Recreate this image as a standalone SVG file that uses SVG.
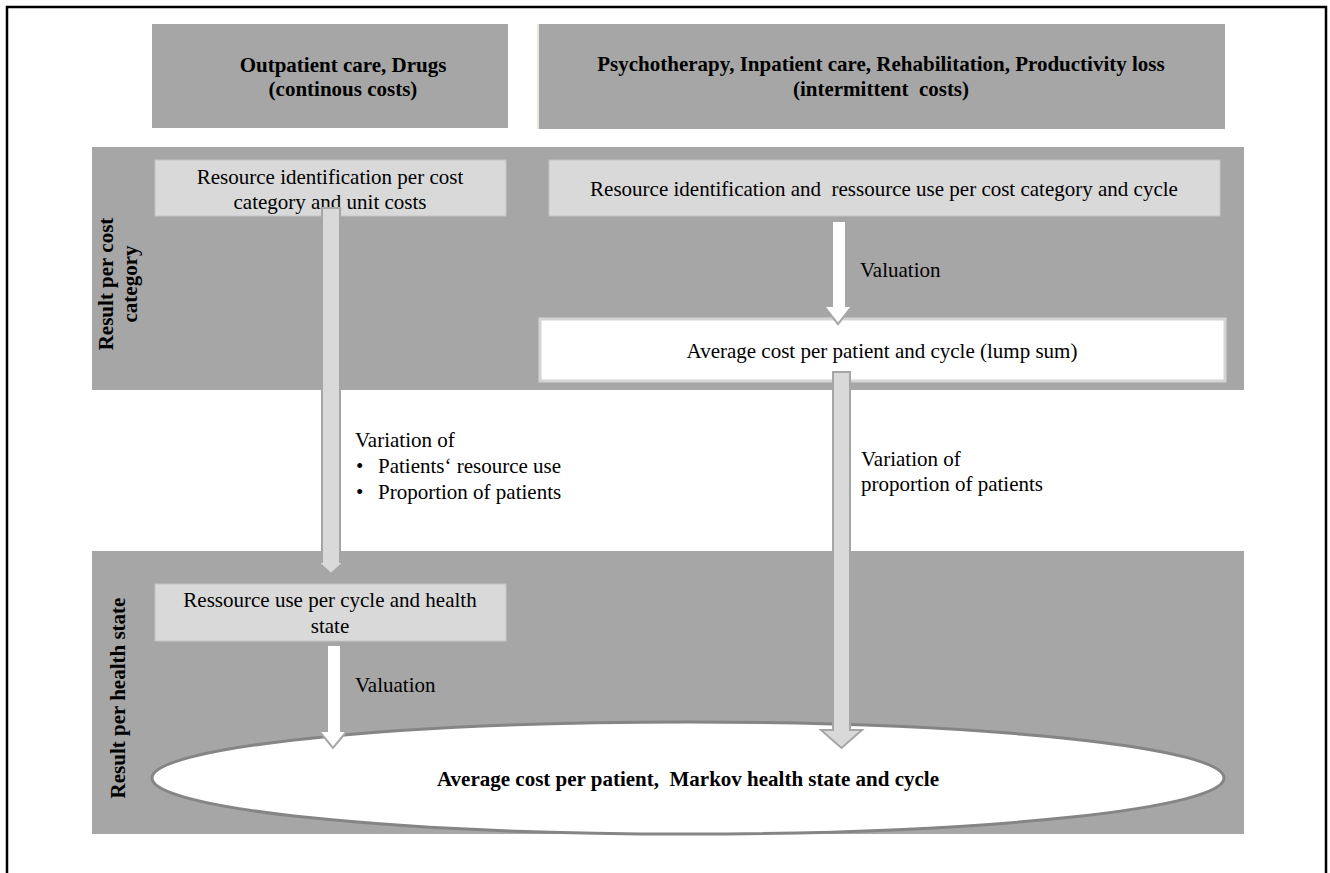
<svg xmlns="http://www.w3.org/2000/svg" width="1330" height="873" viewBox="0 0 1330 873">
<style>
  text { font-family: "Liberation Serif", "Times New Roman", serif; font-size: 21px; fill: #000; }
  .b { font-weight: bold; }
  .m { text-anchor: middle; }
  .band { fill: #a6a6a6; }
  .lbox { fill: #d9d9d9; stroke: #c4c4c4; stroke-width: 1; }
  .grey-arrow { fill: #d9d9d9; stroke: #a6a6a6; stroke-width: 2; }
  .white-arrow { fill: #ffffff; stroke: #a6a6a6; stroke-width: 2; }
</style>
<rect x="0" y="0" width="1330" height="873" fill="#ffffff"/>
<path d="M7,873 V7 H1326 V873" fill="none" stroke="#000" stroke-width="2.5"/>

<g id="band-cost-category">
  <rect class="band" x="92" y="147" width="1152" height="243"/>
  <text class="b m" transform="translate(113,284) rotate(-90)">Result per cost</text>
  <text class="b m" transform="translate(137,284) rotate(-90)">category</text>
</g>
<g id="band-health-state">
  <rect class="band" x="92" y="551" width="1152" height="283"/>
  <text class="b m" transform="translate(125,698) rotate(-90)">Result per health state</text>
</g>

<g id="header-continuous">
  <rect class="band" x="152" y="24" width="356" height="104"/>
  <text class="b m" x="343" y="72">Outpatient care, Drugs</text>
  <text class="b m" x="343" y="96">(continous costs)</text>
</g>
<g id="header-intermittent">
  <rect class="band" x="538" y="24" width="687" height="105"/>
  <line x1="538" y1="24" x2="538" y2="129" stroke="#ebe7df" stroke-width="2"/>
  <text class="b m" x="881" y="71">Psychotherapy, Inpatient care, Rehabilitation, Productivity loss</text>
  <text class="b m" x="881" y="96" xml:space="preserve">(intermittent  costs)</text>
</g>

<g id="box-resource-id-left">
  <rect class="lbox" x="155" y="160" width="351" height="56"/>
  <text class="m" x="330" y="184">Resource identification per cost</text>
  <text class="m" x="330" y="209">category and unit costs</text>
</g>
<g id="box-resource-id-right">
  <rect class="lbox" x="549" y="160" width="671" height="56"/>
  <text class="m" x="884" y="196" xml:space="preserve">Resource identification and  ressource use per cost category and cycle</text>
</g>
<g id="box-lump-sum">
  <rect x="540" y="319" width="685" height="62" fill="#ffffff" stroke="#d4d4d4" stroke-width="3"/>
  <text class="m" x="882" y="358">Average cost per patient and cycle (lump sum)</text>
</g>
<g id="box-resource-use-health">
  <rect class="lbox" x="155" y="584" width="351" height="57"/>
  <text class="m" x="330" y="607">Ressource use per cycle and health</text>
  <text class="m" x="330" y="633">state</text>
</g>
<g id="ellipse-average-cost">
  <ellipse cx="688" cy="778" rx="536" ry="56" fill="#ffffff" stroke="#858585" stroke-width="3"/>
  <text class="b m" x="688" y="786" xml:space="preserve">Average cost per patient,  Markov health state and cycle</text>
</g>

<g id="connectors">
  <polygon class="grey-arrow" points="322,208 340,208 340,562 344,562 331,574 318,562 322,562"/>
  <polygon class="white-arrow" points="832,221 846,221 846,306 852,306 838,324 824,306 832,306"/>
  <polygon class="grey-arrow" points="833,372 850,372 850,730 862,730 841.5,748 821,730 833,730"/>
  <polygon class="white-arrow" points="327,645 341,645 341,731 347,731 333,748 319,731 327,731"/>
</g>

<g id="labels">
  <text x="860" y="277">Valuation</text>
  <text x="355" y="447">Variation of</text>
  <text x="356" y="473">•</text>
  <text x="378" y="473">Patients‘ resource use</text>
  <text x="356" y="499">•</text>
  <text x="378" y="499">Proportion of patients</text>
  <text x="861" y="466">Variation of</text>
  <text x="861" y="491">proportion of patients</text>
  <text x="355" y="692">Valuation</text>
</g>
</svg>
